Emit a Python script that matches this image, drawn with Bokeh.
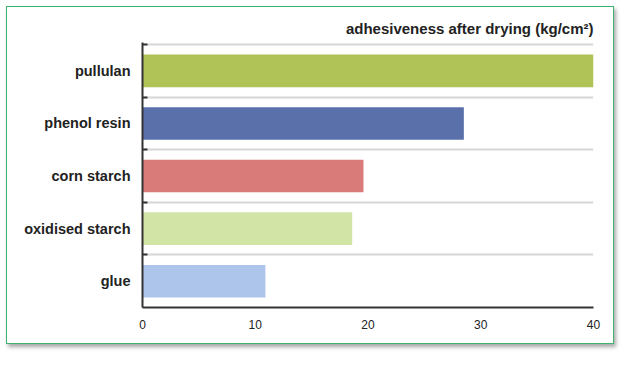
from bokeh.plotting import figure
from bokeh.models import Range1d, FixedTicker, ColumnDataSource, InlineStyleSheet
from bokeh.embed import file_html
from bokeh.resources import INLINE

categories = ["pullulan", "phenol resin", "corn starch", "oxidised starch", "glue"]
values = [40.0, 28.5, 19.6, 18.6, 10.9]
colors = ["#afc356", "#5a70ab", "#d97b79", "#d3e5a6", "#adc5ea"]
x_ticks = [0, 10, 20, 30, 40]
title_text = "adhesiveness after drying (kg/cm²)"

n = len(categories)
ypos = [n - i - 0.5 for i in range(n)]
src = ColumnDataSource(dict(y=ypos, v=values, c=colors, name=categories))

p = figure(width=608, height=338, x_range=Range1d(0, 40), y_range=Range1d(0, n + 0.04),
           output_backend="svg", toolbar_location=None,
           min_border_left=135, min_border_right=22, min_border_top=35, min_border_bottom=38)
p.stylesheets = [InlineStyleSheet(css=":host { border: 1px solid #3cb371 !important; "
                                  "box-shadow: 2px 3px 4px rgba(0,0,0,0.35) !important; "
                                  "margin-left: 6px !important; margin-top: 6px !important; }")]

p.hbar(y="y", right="v", left=0, height=0.62, fill_color="c", line_color=None, source=src)

p.title.text = title_text
p.title.align = "right"
p.title.text_font = "Liberation Sans"
p.title.text_font_size = "15px"
p.title.text_font_style = "bold"
p.title.text_color = "#222222"
p.title.standoff = 12

p.outline_line_color = None
p.xgrid.visible = False
p.ygrid.ticker = FixedTicker(ticks=[float(k) for k in range(1, n + 1)])
p.ygrid.grid_line_color = "#d6d6d6"
p.ygrid.grid_line_width = 2

p.xaxis.ticker = FixedTicker(ticks=x_ticks)
p.xaxis.axis_line_width = 2
p.xaxis.axis_line_color = "#333333"
p.xaxis.major_tick_line_color = None
p.xaxis.minor_tick_line_color = None
p.xaxis.major_label_text_font = "Liberation Sans"
p.xaxis.major_label_text_font_size = "12px"
p.xaxis.major_label_text_color = "#222222"
p.xaxis.major_label_standoff = 6

p.yaxis.ticker = FixedTicker(ticks=ypos, minor_ticks=[float(k) for k in range(1, n + 1)])
p.yaxis.major_label_overrides = {y: c for y, c in zip(ypos, categories)}
p.yaxis.axis_line_width = 2
p.yaxis.axis_line_color = "#333333"
p.yaxis.major_tick_line_color = None
p.yaxis.minor_tick_in = 5
p.yaxis.minor_tick_out = 0
p.yaxis.minor_tick_line_width = 2
p.yaxis.minor_tick_line_color = "#333333"
p.yaxis.major_label_text_font = "Liberation Sans"
p.yaxis.major_label_text_font_size = "14.5px"
p.yaxis.major_label_text_font_style = "bold"
p.yaxis.major_label_text_color = "#222222"
p.yaxis.major_label_standoff = 6

open("out.html", "w").write(file_html(p, INLINE))
